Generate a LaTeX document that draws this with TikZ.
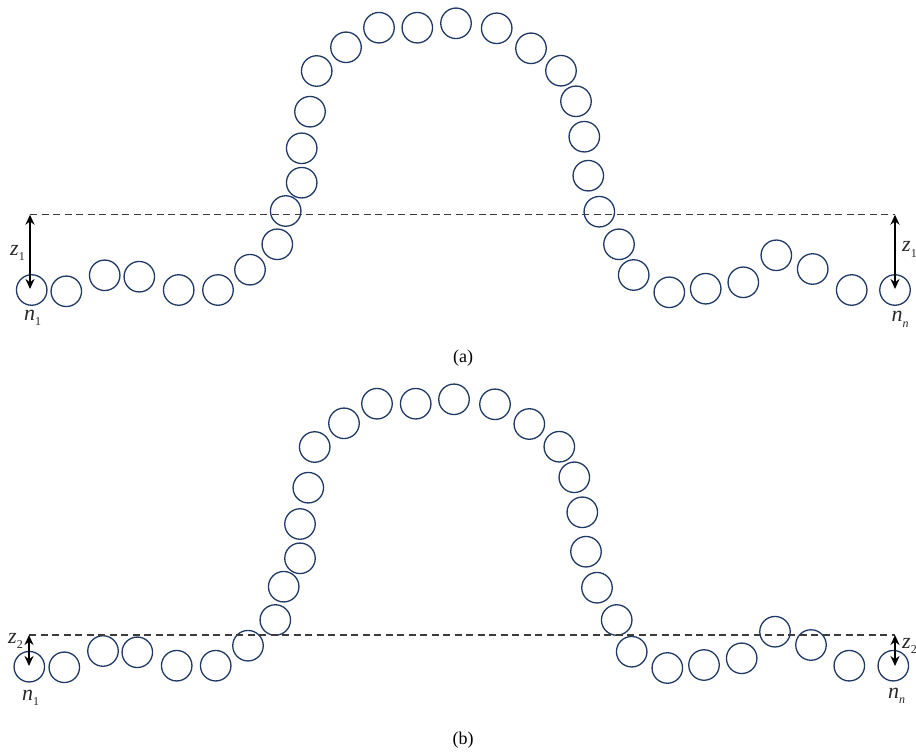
\documentclass[tikz,border=0pt]{standalone}
\usepackage{fontspec}
\setmainfont{Liberation Serif}
\usetikzlibrary{arrows.meta}
\definecolor{ring}{RGB}{31,56,100}
\definecolor{dashgray}{RGB}{60,60,60}
\definecolor{labgray}{RGB}{40,40,40}
\newcommand{\lowsub}[1]{\raisebox{-0.26em}{\fontsize{12}{12}\selectfont #1}}
\begin{document}
\begin{tikzpicture}[x=1pt,y=-1pt,
  bead/.style={circle,draw=ring,line width=1.3pt,minimum size=30.5pt,inner sep=0pt},
  level/.style={draw=dashgray,line width=1.1pt,dash pattern=on 7pt off 4.5pt},
  dim/.style={draw=black,line width=2.2pt,{Stealth[length=10pt,width=9pt]}-{Stealth[length=10pt,width=9pt]}},
  lab/.style={text=labgray,font=\fontsize{22}{24}\selectfont,inner sep=0pt,anchor=base west},
  panellabel/.style={text=black,font=\fontsize{18}{20}\selectfont,inner sep=0pt}]
\useasboundingbox (0,0) rectangle (916,752);
% ---------- panel (a) ----------
\foreach \px/\py [count=\i] in {
  31.7/290, 66.3/291.3, 104.7/275.3, 139.3/276.7, 178.7/290, 218/290,
  250/269.7, 277.3/244.3, 285.7/211, 301.7/182.7, 301.7/148.3, 310/111.7,
  316.7/71, 346/47.3, 379/27.7, 417.3/27.7, 456/23.3, 496.7/28.3,
  531/48.3, 561/70.7, 576/101.3, 584.3/136.7, 588.3/175.7, 599.3/211.7,
  619/244.3, 633.7/275, 669.3/292.3, 705.7/288.7, 743.3/282.3, 776.3/255.3,
  812.7/269, 851.7/290, 895/290}
  \node[bead] (a\i) at (\px,\py) {};
\coordinate (aL) at (30,214.7);
\coordinate (aR) at (895,214.7);
\coordinate (aLb) at (30,289);
\coordinate (aRb) at (895,289);
\draw[level] (aL) -- (aR);
\draw[dim] (aL) -- (aLb);
\draw[dim] (aR) -- (aRb);
\node[lab] (za1) at (10,255) {\textit{z}\lowsub{1}};
\node[lab] (za2) at (902,251.7) {\textit{z}\lowsub{1}};
\node[lab] (na1) at (24,320) {\textit{n}\lowsub{1}};
\node[lab] (na2) at (891.5,321.7) {\textit{n}\lowsub{\itshape n}};
\node[panellabel] (capa) at (463,358) {(a)};
% ---------- panel (b) ----------
\foreach \px/\py [count=\i] in {
  29.3/666.7, 64.3/667.3, 103/651, 137.3/652.3, 176.7/665.7, 215.7/665.7,
  248/645.7, 275.3/620, 283.7/586.7, 300/558.3, 300/524, 308.3/487.7,
  314.7/447, 344/423.3, 377/403.7, 415.7/403.7, 454/399.3, 495/404.3,
  529.3/424, 559.3/446.7, 574.3/477.3, 582.3/512.3, 586/551.7, 597/587.7,
  616.7/620, 631.7/651.7, 667.3/668, 704/665, 741.7/658.3, 775/631.7,
  811/645, 849.3/665.7, 893.3/665.7}
  \node[bead] (b\i) at (\px,\py) {};
\coordinate (bL) at (29,635);
\coordinate (bR) at (895,635);
\coordinate (bLb) at (29,666);
\coordinate (bRb) at (895,666);
\draw[level] (bL) -- (bR);
\draw[dim] (bL) -- (bLb);
\draw[dim] (bR) -- (bRb);
\node[lab] (zb1) at (8,643) {\textit{z}\lowsub{2}};
\node[lab] (zb2) at (902,648) {\textit{z}\lowsub{2}};
\node[lab] (nb1) at (22,700) {\textit{n}\lowsub{1}};
\node[lab] (nb2) at (888,698) {\textit{n}\lowsub{\itshape n}};
\node[panellabel] (capb) at (463,740) {(b)};
\end{tikzpicture}
\end{document}
